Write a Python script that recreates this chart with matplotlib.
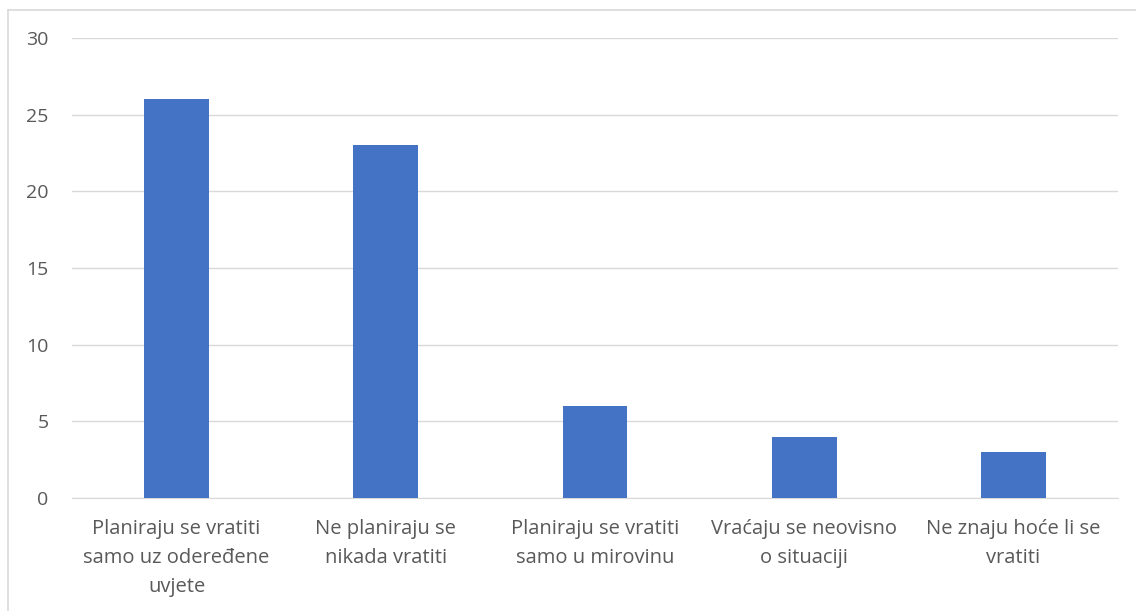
import matplotlib
matplotlib.use("Agg")
from matplotlib import pyplot as plt
from matplotlib.lines import Line2D

categories = [
    "Planiraju se vratiti\nsamo uz odeređene\nuvjete",
    "Ne planiraju se\nnikada vratiti",
    "Planiraju se vratiti\nsamo u mirovinu",
    "Vraćaju se neovisno\no situaciji",
    "Ne znaju hoće li se\nvratiti",
]
values = [26, 23, 6, 4, 3]
y_ticks = [0, 5, 10, 15, 20, 25, 30]

plt.rcParams['font.family'] = ['Open Sans', 'DejaVu Sans']

W, H = 1136, 611
fig = plt.figure(figsize=(W / 100, H / 100), dpi=100)
ax = fig.add_axes([72 / W, 1 - 498 / H, (1118 - 72) / W, (498 - 38) / H])

ax.bar(range(len(values)), values, width=0.31, color='#4472C4', zorder=3)

ax.set_xlim(-0.5, len(values) - 0.5)
ax.set_ylim(0, 30)
ax.set_yticks(y_ticks)
ax.set_xticks(range(len(values)))
ax.set_xticklabels(categories, fontsize=14.5, color='#595959', linespacing=1.62)
ax.tick_params(axis='y', labelsize=14, labelcolor='#595959', length=0, pad=17)
ax.tick_params(axis='x', length=0, pad=15)
ax.grid(axis='y', color='#D9D9D9', linewidth=1, zorder=0)
for side in ['top', 'right', 'left']:
    ax.spines[side].set_visible(False)
ax.spines['bottom'].set_color('#D9D9D9')

# chart border (left and top edges only visible in the crop)
bx, by = 7.5 / W, 1 - 9.5 / H
fig.add_artist(Line2D([bx, bx], [0, by], transform=fig.transFigure, color='#D9D9D9', linewidth=1.2))
fig.add_artist(Line2D([bx, 1], [by, by], transform=fig.transFigure, color='#D9D9D9', linewidth=1.2))

fig.savefig('out.png', dpi=100)
